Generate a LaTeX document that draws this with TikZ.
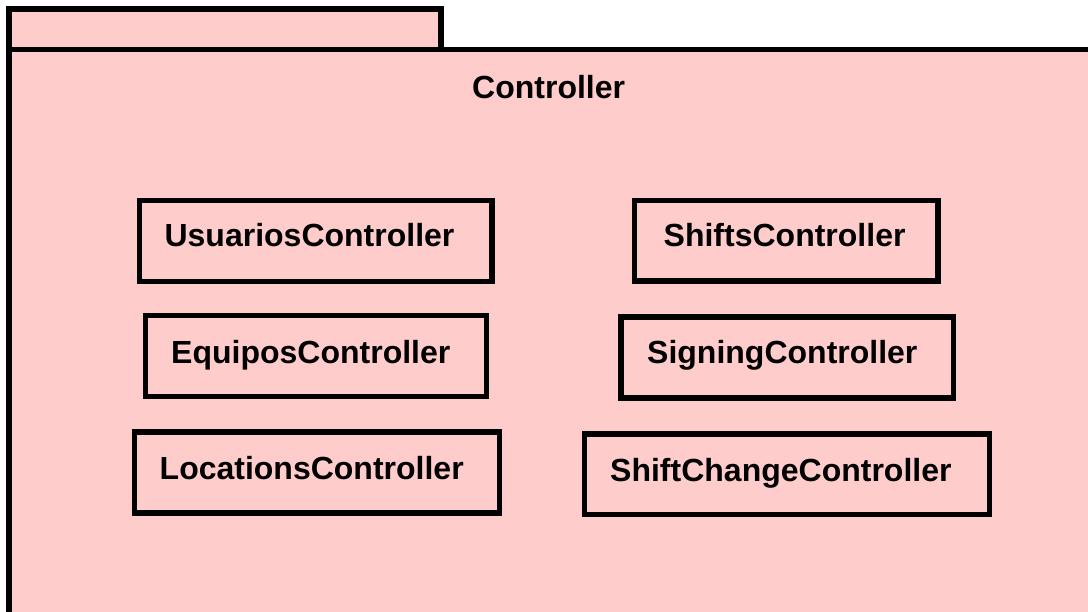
\documentclass[tikz,border=0pt]{standalone}
\usepackage{fontspec}
\setmainfont{Liberation Sans}
\usetikzlibrary{positioning}
\definecolor{pkgpink}{RGB}{255,204,204}

\begin{document}
\begin{tikzpicture}[x=1pt,y=-1pt,
        pkg/.style={draw=black, fill=pkgpink, line width=5.5pt},
        ctrlbox/.style={draw=black, line width=5.5pt},
        ctrltext/.style={anchor=base west, inner sep=0pt, font=\fontsize{32}{37}\selectfont\bfseries}]
        \useasboundingbox (0,0) rectangle (1088,612);
        % package tab and body
        \draw[pkg] (9,9) rectangle (441,49.5);
        \draw[pkg] (9,49.5) rectangle (1090.5,615);
        \node[ctrltext] (pkgname) at (472,98.5) {Controller};
        % left column
        \draw[ctrlbox] (139.7,200.3) rectangle (492.2,281.3);
        \node[ctrltext] (usuarios) at (164.4,246.5) {UsuariosController};
        \draw[ctrlbox] (145.5,315.3) rectangle (486.3,396.3);
        \node[ctrltext] (equipos) at (171,364) {EquiposController};
        \draw[ctrlbox] (134.5,432.2) rectangle (499.7,513);
        \node[ctrltext] (locations) at (159.5,479) {LocationsController};
        % right column
        \draw[ctrlbox] (634.7,200.3) rectangle (938,280.8);
        \node[ctrltext] (shifts) at (663.5,246.5) {ShiftsController};
        \draw[ctrlbox] (621.2,317.2) rectangle (953.7,398);
        \node[ctrltext] (signing) at (647,363.5) {SigningController};
        \draw[ctrlbox] (584.5,434.2) rectangle (989.5,514.7);
        \node[ctrltext] (shiftchange) at (610,481.5) {ShiftChangeController};
\end{tikzpicture}
\end{document}
